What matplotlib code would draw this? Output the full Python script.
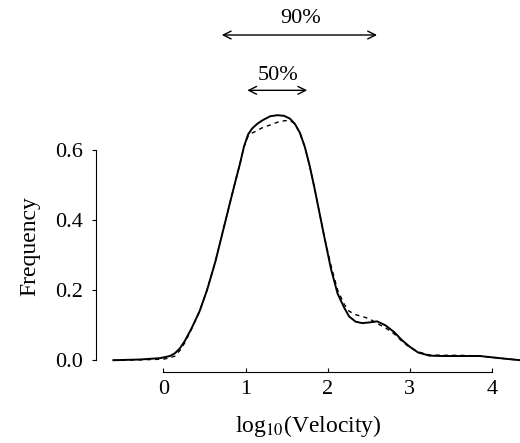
import numpy as np
import matplotlib
matplotlib.use('Agg')
import matplotlib.pyplot as plt

plt.rcParams['font.family'] = ['Liberation Serif', 'DejaVu Serif']
plt.rcParams['mathtext.fontset'] = 'stix'

# observed distribution (solid)
obs_x = [-0.61, -0.29, -0.04, 0.08, 0.14, 0.20, 0.26, 0.34, 0.44, 0.53, 0.63,
         0.72, 0.81, 0.88, 0.93, 0.98, 1.03, 1.08, 1.14, 1.21, 1.30, 1.39,
         1.47, 1.54, 1.60, 1.66, 1.72, 1.78, 1.84, 1.90, 1.96, 2.04, 2.12,
         2.20, 2.26, 2.34, 2.42, 2.51, 2.60, 2.70, 2.81, 2.90, 2.99, 3.10,
         3.24, 3.40, 3.61, 3.85, 4.09, 4.34]
obs_y = [0.0, 0.002, 0.006, 0.012, 0.02, 0.034, 0.055, 0.09, 0.14, 0.2, 0.28,
         0.365, 0.45, 0.515, 0.56, 0.61, 0.645, 0.662, 0.675, 0.686, 0.697, 0.70,
         0.698, 0.69, 0.675, 0.65, 0.61, 0.555, 0.49, 0.42, 0.35, 0.26, 0.19,
         0.15, 0.125, 0.11, 0.106, 0.108, 0.111, 0.10, 0.08, 0.058, 0.04, 0.022,
         0.013, 0.012, 0.012, 0.012, 0.006, 0.0]

# fitted distribution (dashed)
fit_x = [-0.61, -0.29, 0.0, 0.08, 0.14, 0.20, 0.26, 0.34, 0.44, 0.53, 0.63,
         0.72, 0.81, 0.88, 0.93, 0.98, 1.03, 1.08, 1.14, 1.21, 1.30, 1.39,
         1.47, 1.54, 1.60, 1.66, 1.72, 1.78, 1.84, 1.90, 1.96, 2.04, 2.12,
         2.20, 2.26, 2.34, 2.42, 2.51, 2.60, 2.70, 2.81, 2.90, 2.99, 3.10,
         3.24, 3.40, 3.61, 3.85, 4.09, 4.34]
fit_y = [0.0, 0.001, 0.003, 0.007, 0.012, 0.028, 0.05, 0.088, 0.14, 0.2, 0.28,
         0.365, 0.45, 0.515, 0.56, 0.61, 0.64, 0.649, 0.656, 0.665, 0.672, 0.68,
         0.684, 0.685, 0.675, 0.65, 0.61, 0.555, 0.49, 0.42, 0.35, 0.27, 0.2,
         0.16, 0.14, 0.13, 0.125, 0.118, 0.105, 0.093, 0.075, 0.055, 0.038, 0.024,
         0.015, 0.014, 0.014, 0.012, 0.006, 0.0]

fig = plt.figure(figsize=(5.2, 4.43), dpi=100)
ax = fig.add_axes([0.184, 0.160, 0.816, 0.840])

ax.plot(obs_x, obs_y, 'k-', lw=1.4)
ax.plot(fit_x, fit_y, 'k--', lw=1.0, dashes=(3, 3))

ax.set_xlim(-0.825, 4.34)
ax.set_ylim(-0.034, 1.029)

for s in ['top', 'right']:
    ax.spines[s].set_visible(False)
ax.spines['left'].set_bounds(0, 0.6)
ax.spines['bottom'].set_bounds(0, 4)

ax.set_xticks([0, 1, 2, 3, 4])
ax.set_yticks([0.0, 0.2, 0.4, 0.6])
ax.set_yticklabels(['0.0', '0.2', '0.4', '0.6'])
ax.tick_params(axis='x', direction='in', length=3, pad=6, labelsize=16)
ax.tick_params(axis='y', direction='out', length=3, pad=6, labelsize=16)

ax.set_xlabel(r'log$_{10}$(Velocity)', fontsize=17, labelpad=10)
ax.set_ylabel('Frequency', fontsize=17)
ax.yaxis.set_label_coords(-0.13, 0.34)

# range arrows
arr = dict(arrowstyle='<->', lw=1.0, color='k', shrinkA=0, shrinkB=0,
           mutation_scale=14)
ax.annotate('', xy=(0.71, 0.929), xytext=(2.60, 0.929), arrowprops=arr)
ax.text(1.67, 0.975, '90%', ha='center', va='center', fontsize=16)
ax.annotate('', xy=(1.02, 0.771), xytext=(1.75, 0.771), arrowprops=arr)
ax.text(1.39, 0.814, '50%', ha='center', va='center', fontsize=16)

fig.savefig('out.png', dpi=100)
